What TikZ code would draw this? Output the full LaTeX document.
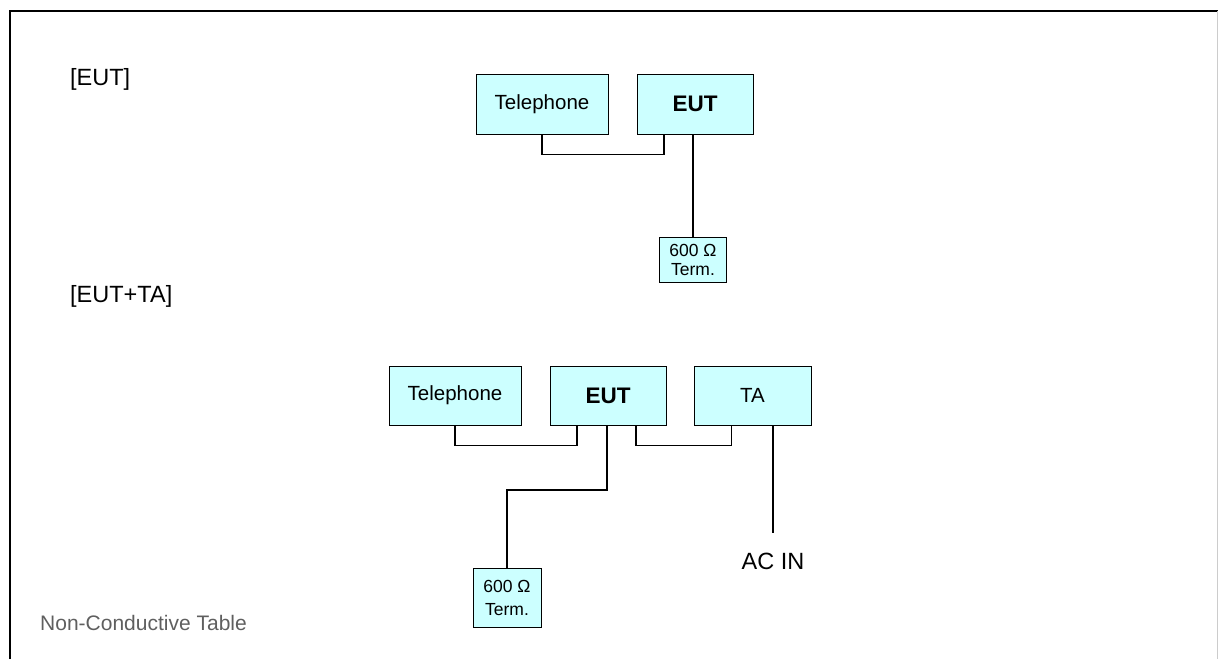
\documentclass[tikz,border=0pt]{standalone}
\usepackage{fontspec}
\setmainfont{Liberation Sans}
\usepackage{tikz}
\usetikzlibrary{positioning,calc}
\definecolor{boxfill}{HTML}{CCFFFF}
\definecolor{notegray}{HTML}{5F5F5F}

\begin{document}
\begin{tikzpicture}[x=1pt,y=-1pt,
  box/.style={draw,line width=1pt,fill=boxfill,align=center,inner sep=0pt,font=\fontsize{20.5}{24}\selectfont},
  eut/.style={box,font=\fontsize{22.5}{26}\selectfont\bfseries},
  term/.style={box,font=\fontsize{17.5}{19}\selectfont},
  lbl/.style={inner sep=0pt,font=\fontsize{23.5}{27}\selectfont},
  wire/.style={line width=1.6pt}]
\useasboundingbox (0,0) rectangle (1218,659);
% frame of the table
\draw[line width=2pt] (10,659) -- (10,11) -- (1218,11);
\draw[black!20,line width=1pt] (1217,11) -- (1217,659);
\node[lbl,anchor=west] (lab1) at (70,79) {[EUT]};
\node[lbl,anchor=west] (lab2) at (70,296) {[EUT+TA]};
\node[inner sep=0pt,anchor=west,text=notegray,font=\fontsize{21}{25}\selectfont] (table) at (40,623) {Non-Conductive Table};
% EUT alone
\node[box,minimum width=132,minimum height=60] (tel1) at (542,104) {Telephone};
\node[eut,minimum width=116,minimum height=60] (eut1) at (695,104) {EUT};
\node[term,minimum width=67,minimum height=45] (term1) at (693,259.5) {600 Ω\\Term.};
\draw[wire] (tel1.south) -- ++(0,20) -| ([xshift=-31pt]eut1.south);
\draw[wire] (term1.north |- eut1.south) -- (term1.north);
% EUT with TA
\node[box,minimum width=132,minimum height=59] (tel2) at (455,395.5) {Telephone};
\node[eut,minimum width=116,minimum height=59] (eut2) at (608,395.5) {EUT};
\node[box,minimum width=117,minimum height=59] (ta2) at (752.5,395.5) {TA};
\node[term,minimum width=68,minimum height=59] (term2) at (507,597.5) {600 Ω\\[4pt]Term.};
\coordinate (acend) at (773,533);
\node[lbl,anchor=north] (acin) at (773,553) {AC IN};
\draw[wire] (tel2.south) -- ++(0,20) -| ([xshift=-31pt]eut2.south);
\draw[wire] ([xshift=28pt]eut2.south) -- ++(0,20) -| ([xshift=-21pt]ta2.south);
\draw[wire] ([xshift=-1pt]eut2.south) |- (0,490 -| term2.north) -- (term2.north);
\draw[wire] (acend |- ta2.south) -- (acend);
\end{tikzpicture}
\end{document}
